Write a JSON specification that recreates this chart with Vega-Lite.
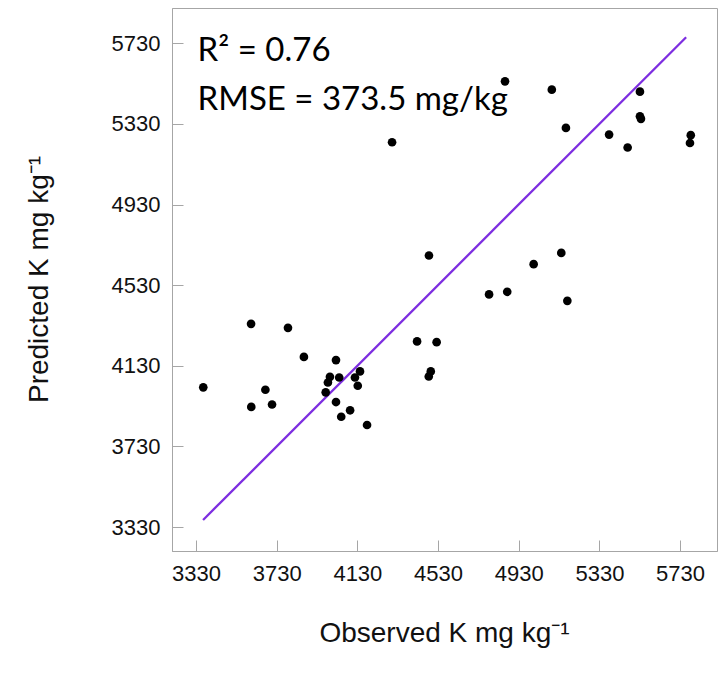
{
  "$schema": "https://vega.github.io/schema/vega-lite/v6.json",
  "width": 545,
  "height": 543,
  "autosize": {"type": "none"},
  "padding": {"left": 172, "top": 8, "right": 3, "bottom": 124},
  "background": "white",
  "config": {
    "view": {"stroke": "#A6A6A6", "strokeWidth": 1},
    "axis": {
      "domainColor": "#A6A6A6",
      "tickColor": "#A6A6A6",
      "tickSize": -11,
      "grid": false,
      "format": "d",
      "labelFont": "Liberation Sans",
      "labelFontSize": 22,
      "labelColor": "#111111",
      "labelFlush": false,
      "labelOverlap": false,
      "titleFont": "Liberation Sans",
      "titleFontSize": 28,
      "titleFontWeight": "normal",
      "titleColor": "#111111"
    }
  },
  "datasets": {
    "points": [
      {"observed": 3366, "predicted": 4023},
      {"observed": 3603, "predicted": 4338},
      {"observed": 3604, "predicted": 3926},
      {"observed": 3674, "predicted": 4011},
      {"observed": 3707, "predicted": 3938},
      {"observed": 3786, "predicted": 4318},
      {"observed": 3865, "predicted": 4174},
      {"observed": 3973, "predicted": 3998},
      {"observed": 3984, "predicted": 4047},
      {"observed": 3994, "predicted": 4075},
      {"observed": 4024, "predicted": 4158},
      {"observed": 4024, "predicted": 3950},
      {"observed": 4040, "predicted": 4072},
      {"observed": 4050, "predicted": 3877},
      {"observed": 4094, "predicted": 3909},
      {"observed": 4118, "predicted": 4072},
      {"observed": 4132, "predicted": 4031},
      {"observed": 4143, "predicted": 4102},
      {"observed": 4178, "predicted": 3836},
      {"observed": 4302, "predicted": 5239},
      {"observed": 4426, "predicted": 4251},
      {"observed": 4523, "predicted": 4247},
      {"observed": 4485, "predicted": 4677},
      {"observed": 4484, "predicted": 4077},
      {"observed": 4494, "predicted": 4102},
      {"observed": 4783, "predicted": 4484},
      {"observed": 4873, "predicted": 4497},
      {"observed": 4862, "predicted": 5541},
      {"observed": 5004, "predicted": 4634},
      {"observed": 5094, "predicted": 5500},
      {"observed": 5141, "predicted": 4690},
      {"observed": 5171, "predicted": 4452},
      {"observed": 5164, "predicted": 5310},
      {"observed": 5378, "predicted": 5277},
      {"observed": 5470, "predicted": 5213},
      {"observed": 5531, "predicted": 5490},
      {"observed": 5531, "predicted": 5368},
      {"observed": 5536, "predicted": 5355},
      {"observed": 5783, "predicted": 5274},
      {"observed": 5779, "predicted": 5235}
    ],
    "oneToOne": [
      {"observed": 3365, "predicted": 3365},
      {"observed": 5760, "predicted": 5760}
    ]
  },
  "layer": [
    {
      "data": {"name": "oneToOne"},
      "mark": {"type": "line", "color": "#7D2EE0", "strokeWidth": 2.3},
      "encoding": {
        "x": {
          "field": "observed",
          "type": "quantitative",
          "scale": {"domain": [3211, 5913], "nice": false, "zero": false},
          "axis": {
            "values": [3330, 3730, 4130, 4530, 4930, 5330, 5730],
            "labelPadding": 23,
            "title": "Observed K mg kg⁻¹",
            "titleX": 272,
            "titleY": 90,
            "titleBaseline": "alphabetic"
          }
        },
        "y": {
          "field": "predicted",
          "type": "quantitative",
          "scale": {"domain": [3211, 5905], "nice": false, "zero": false},
          "axis": {
            "values": [3330, 3730, 4130, 4530, 4930, 5330, 5730],
            "labelPadding": 23,
            "title": "Predicted K mg kg⁻¹",
            "titleX": -125,
            "titleY": 271,
            "titleBaseline": "alphabetic",
            "titleAlign": "center"
          }
        }
      }
    },
    {
      "data": {"name": "points"},
      "mark": {"type": "circle", "color": "#000000", "opacity": 1, "size": 75},
      "encoding": {
        "x": {"field": "observed", "type": "quantitative"},
        "y": {"field": "predicted", "type": "quantitative"}
      }
    },
    {
      "data": {"values": [{}]},
      "mark": {"type": "text", "font": "Lato", "fontSize": 33, "align": "left", "baseline": "alphabetic", "color": "#000000"},
      "encoding": {
        "x": {"datum": 3338, "type": "quantitative"},
        "y": {"datum": 5642, "type": "quantitative"},
        "text": {"value": "R² = 0.76"}
      }
    },
    {
      "data": {"values": [{}]},
      "mark": {"type": "text", "font": "Lato", "fontSize": 33, "align": "left", "baseline": "alphabetic", "color": "#000000"},
      "encoding": {
        "x": {"datum": 3338, "type": "quantitative"},
        "y": {"datum": 5400, "type": "quantitative"},
        "text": {"value": "RMSE = 373.5 mg/kg"}
      }
    }
  ]
}
